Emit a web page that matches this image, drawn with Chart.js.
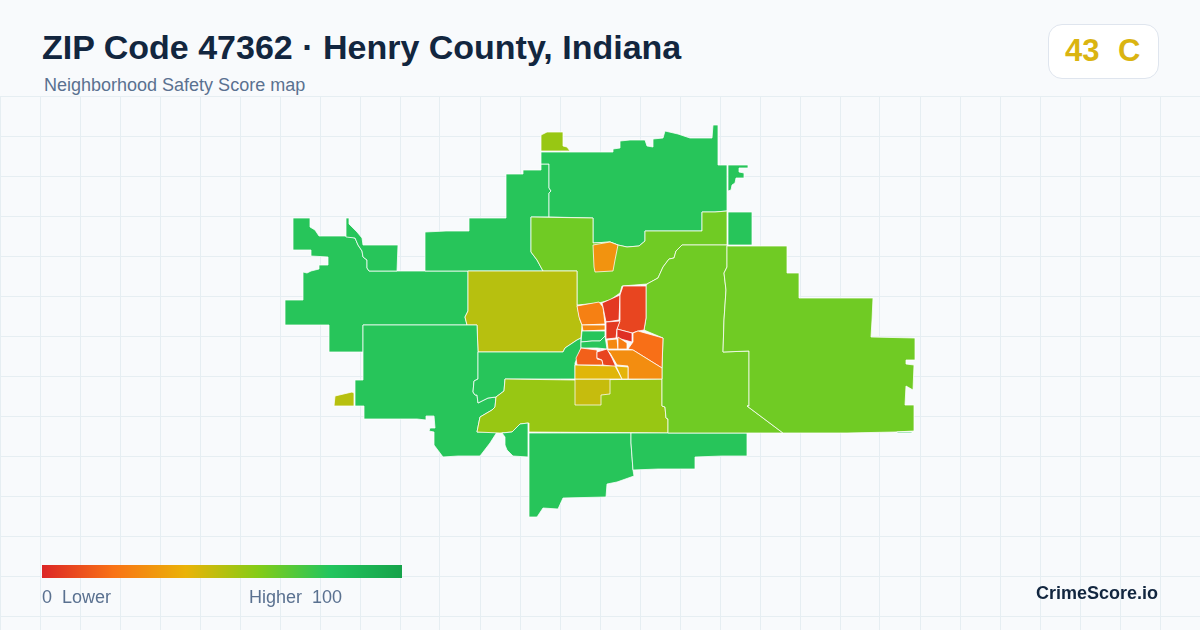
<!DOCTYPE html>
<html>
<head>
<meta charset="utf-8">
<title>ZIP Code 47362</title>
<script src="https://cdn.jsdelivr.net/npm/chart.js@4"></script>
<style>
  html, body { margin: 0; padding: 0; }
  body { width: 1200px; height: 630px; overflow: hidden; position: relative; background: #f8fafc;
         font-family: "Liberation Sans", Arial, sans-serif; }
  #map { position: absolute; left: 0; top: 96px; }
  .txt { position: absolute; white-space: pre; line-height: 1; }
  #title { left: 42px; top: 30px; font-size: 34px; font-weight: 700; color: #12263f; }
  #sub { left: 44px; top: 76px; font-size: 18px; color: #5a7190; }
  #badge { position: absolute; left: 1048px; top: 24px; width: 109px; height: 53px; background: #fff;
           border: 1px solid #dfe5ee; border-radius: 14px; }
  #grade { left: 1065px; top: 35px; font-size: 31px; font-weight: 700; color: #dab411; word-spacing: 0.6px; }
  #bar { position: absolute; left: 42px; top: 565px; width: 360px; height: 13px; }
  #lo { left: 42px; top: 588px; font-size: 18px; color: #5a7190; }
  #hi { left: 249px; top: 588px; font-size: 18px; color: #5a7190; }
  #brand { left: 1036px; top: 584px; font-size: 18px; font-weight: 700; color: #12263f; }
</style>
</head>
<body>
<div id="title" class="txt">ZIP Code 47362 · Henry County, Indiana</div>
<div id="sub" class="txt">Neighborhood Safety Score map</div>
<div id="badge"></div>
<div id="grade" class="txt">43  C</div>
<canvas id="map" width="1200" height="534"></canvas>
<div id="bar"></div>
<div id="lo" class="txt">0  Lower</div>
<div id="hi" class="txt">Higher  100</div>
<div id="brand" class="txt">CrimeScore.io</div>

<script>
// colour ramp, 0 to 100
const rampColors = ["#dc2626", "#f97316", "#eab308", "#84cc16", "#22c55e", "#16a34a"];

// grid
const gridX = [0,40,80,120,160,200,240,280,320,360,400,440,480,520,560,600,640,680,720,760,800,840,880,920,960,1000,1040,1080,1120,1160,1200];
const gridY = [96,136,176,216,256,296,336,376,416,456,496,536,576,616];

// boundaries, map units
const westBlock = [[293,218],[310,218],[310,227],[315,230],[319,236],[345,236],[355,238],[358,245],[362,251],[363,257],[367,260],[367,268],[369,271],[468,271],[468,311],[465,317],[467,325],[363,325],[363,352],[329,352],[329,325],[285,325],[285,300],[303,300],[303,272],[307,273],[311,271],[319,269],[319,265],[328,265],[328,257],[311,256],[311,250],[293,250],[293,238]];
const fingerBlock = [[346,218],[349,218],[349,224],[357,232],[362,238],[363,245],[398,245],[397,271],[369,271],[367,268],[367,260],[363,257],[362,251],[358,245],[355,238],[346,237]];
const northWest = [[425,232],[446,231],[469,231],[469,218],[506,218],[506,174],[523,174],[523,170],[541,170],[541,164],[549,164],[549,188],[551,191],[549,193],[549,217],[531,217],[531,252],[537,260],[543,271],[425,271]];
const northBig = [[541,152],[613,152],[613,149],[620,148],[620,141],[630,140],[645,140],[647,146],[653,147],[653,139],[663,138],[665,131],[678,134],[690,138],[712,138],[713,125],[718,125],[718,165],[727,165],[727,211],[715,212],[702,212],[702,231],[645,231],[645,241],[639,246],[627,247],[618,245],[610,242],[593,243],[593,218],[549,217],[549,193],[551,191],[549,188],[549,164],[541,164]];
const northEastBit = [[728,165],[748,165],[748,168],[739,168],[739,172],[744,173],[744,178],[736,178],[735,183],[732,185],[731,190],[728,191]];
const topPatch = [[541,135],[547,132],[563,132],[563,146],[567,147],[570,151],[541,151]];
const northLime = [[531,217],[593,218],[593,243],[610,242],[618,245],[627,247],[639,246],[645,241],[645,231],[702,231],[702,212],[715,212],[727,211],[727,245],[682,245],[676,251],[674,258],[669,259],[663,267],[658,278],[647,284],[622,286],[620,293],[610,300],[599,303],[577,305],[577,271],[543,271],[537,260],[531,252]];
const westMustard = [[468,271],[577,271],[577,305],[580,320],[582,325],[581,338],[577,340],[565,348],[563,352],[478,352],[477,325],[467,325],[465,317],[468,311]];
const southWest = [[363,325],[477,325],[478,352],[478,379],[474,381],[473,392],[475,395],[477,395],[478,403],[488,398],[496,397],[495,407],[492,410],[480,417],[477,432],[497,432],[490,443],[480,456],[458,456],[443,457],[434,445],[434,432],[429,431],[430,428],[435,428],[434,416],[426,416],[426,420],[417,419],[364,419],[364,406],[355,406],[355,380],[363,380]];
const midStrip = [[478,352],[563,352],[565,348],[577,340],[581,338],[581,348],[578,356],[575,363],[575,379],[540,379],[505,379],[504,391],[496,397],[488,398],[478,403],[477,395],[475,395],[473,392],[474,381],[478,379]];
const southLime = [[505,379],[575,380],[662,379],[662,406],[665,407],[666,418],[668,419],[668,433],[529,432],[529,423],[520,424],[512,432],[500,433],[477,432],[480,417],[492,410],[495,407],[496,397],[504,391]];
const inset = [[575,379],[610,379],[610,394],[601,395],[601,405],[575,405]];
const pocket = [[512,432],[520,424],[528,423],[528,457],[513,456],[507,450],[505,445],[505,437],[502,433]];
const southBig = [[529,433],[631,433],[631,443],[633,470],[634,476],[617,482],[607,484],[606,497],[563,498],[558,509],[543,508],[537,517],[529,517]];
const southEast = [[631,433],[747,433],[747,456],[722,456],[695,457],[695,469],[658,469],[633,470],[631,443]];
const eastColumn = [[682,245],[727,245],[727,267],[724,273],[726,290],[724,320],[723,352],[749,351],[749,406],[747,406],[783,433],[668,433],[668,419],[666,418],[665,407],[662,406],[662,379],[662,368],[663,338],[644,330],[646,318],[646,286],[647,284],[658,278],[663,267],[669,259],[674,258],[676,251]];
const eastBig = [[727,246],[787,246],[787,273],[799,273],[799,298],[873,298],[872,320],[871,337],[915,338],[915,360],[906,360],[906,364],[914,365],[913,390],[906,386],[905,405],[914,405],[914,431],[895,432],[847,433],[783,433],[747,406],[749,406],[749,351],[723,352],[724,320],[726,290],[724,273],[727,267]];
const eastSliver = [[897,432],[912,432],[912,433],[897,433]];
const neSquare = [[728,212],[752,212],[752,245],[728,245]];
const westDot = [[335,396],[352,392],[354,393],[354,406],[334,406]];
const orangeNorth = [[593,245],[610,242],[618,245],[615,260],[613,271],[595,272],[594,267]];
const orangeA = [[577,306],[599,302],[603,307],[605,324],[582,325],[579,317]];
const orangeB = [[582,325],[605,325],[605,330],[583,331]];
const redC = [[602,303],[620,295],[619,320],[606,322],[603,307]];
const redD = [[623,286],[646,286],[646,318],[644,330],[638,331],[632,333],[617,329],[620,320],[620,295]];
const redE = [[606,322],[620,321],[617,329],[616,338],[606,339]];
const redF = [[617,329],[632,333],[632,342],[617,338]];
const orangeG = [[633,333],[638,331],[663,338],[662,368],[633,350],[628,349],[633,342]];
const orangeH = [[607,350],[633,350],[662,368],[662,379],[628,379],[628,366],[617,365],[610,353]];
const orangeI = [[607,340],[617,339],[618,349],[608,349]];
const orangeK = [[618,337],[627,343],[627,349],[618,349]];
const greenA = [[582,331],[605,331],[605,336],[600,341],[592,341],[581,342]];
const greenB = [[581,342],[592,341],[600,341],[605,336],[607,349],[597,348],[581,348]];
const redJ = [[581,348],[597,350],[597,359],[602,360],[603,365],[577,365],[576,358]];
const redL = [[597,352],[607,349],[612,358],[616,367],[610,366],[603,365],[602,360],[597,358]];
const yellowM = [[575,365],[615,366],[622,379],[575,379]];
const yellowN = [[616,366],[628,367],[628,379],[622,379]];

// drawn in this order, scores go with them one by one
const regions = [westBlock, fingerBlock, northWest, northBig, northEastBit, topPatch, northLime, westMustard, southWest, midStrip, southLime, inset, pocket, southBig, southEast, eastColumn, eastBig, eastSliver, neSquare, westDot, orangeNorth, orangeA, orangeB, redC, redD, redE, redF, orangeG, orangeH, orangeI, orangeK, greenA, greenB, redJ, redL, yellowM, yellowN];
const scores = [79, 79, 79, 79, 79, 56, 64, 50, 79, 79, 56, 47, 79, 79, 79, 64, 64, 79, 79, 50, 30, 24, 27, 5, 8, 5, 2, 19, 28, 27, 23, 79, 79, 15, 8, 42, 41];

function hexToRgb(hex) {
  return [1, 3, 5].map((i) => parseInt(hex.slice(i, i + 2), 16));
}

function scoreColor(score) {
  const pos = (score / 100) * (rampColors.length - 1);
  const i = Math.min(Math.floor(pos), rampColors.length - 2);
  const a = hexToRgb(rampColors[i]);
  const b = hexToRgb(rampColors[i + 1]);
  const t = pos - i;
  const c = a.map((v, k) => Math.round(v + (b[k] - v) * t));
  return `rgb(${c[0]},${c[1]},${c[2]})`;
}

document.getElementById("bar").style.background =
  `linear-gradient(to right, ${rampColors.join(", ")})`;

// fills each dataset's points as a closed shape
const regionFill = {
  id: "regionFill",
  afterDatasetsDraw(chart) {
    const ctx = chart.ctx;
    chart.data.datasets.forEach((ds, i) => {
      const pts = chart.getDatasetMeta(i).data;
      ctx.beginPath();
      pts.forEach((p, k) => (k === 0 ? ctx.moveTo(p.x, p.y) : ctx.lineTo(p.x, p.y)));
      ctx.closePath();
      ctx.fillStyle = ds.backgroundColor;
      ctx.fill();
      ctx.lineWidth = 0.8;
      ctx.lineJoin = "round";
      ctx.strokeStyle = "rgba(255,255,255,0.95)";
      ctx.stroke();
    });
  },
};

new Chart(document.getElementById("map"), {
  type: "scatter",
  data: {
    datasets: regions.map((r, i) => ({
      data: r.map((p) => ({ x: p[0], y: p[1] })),
      backgroundColor: scoreColor(scores[i]),
      pointRadius: 0,
      showLine: false,
    })),
  },
  options: {
    responsive: false,
    animation: false,
    layout: { padding: 0 },
    plugins: { legend: { display: false }, tooltip: { enabled: false } },
    scales: {
      x: {
        type: "linear",
        min: 0,
        max: 1200,
        afterBuildTicks: (axis) => { axis.ticks = gridX.map((v) => ({ value: v })); },
        ticks: { display: false },
        border: { display: false },
        grid: { color: "#e6eef2", lineWidth: 1, drawTicks: false },
      },
      y: {
        type: "linear",
        min: 96,
        max: 630,
        reverse: true,
        afterBuildTicks: (axis) => { axis.ticks = gridY.map((v) => ({ value: v })); },
        ticks: { display: false },
        border: { display: false },
        grid: { color: "#e6eef2", lineWidth: 1, drawTicks: false },
      },
    },
  },
  plugins: [regionFill],
});
</script>
</body>
</html>
